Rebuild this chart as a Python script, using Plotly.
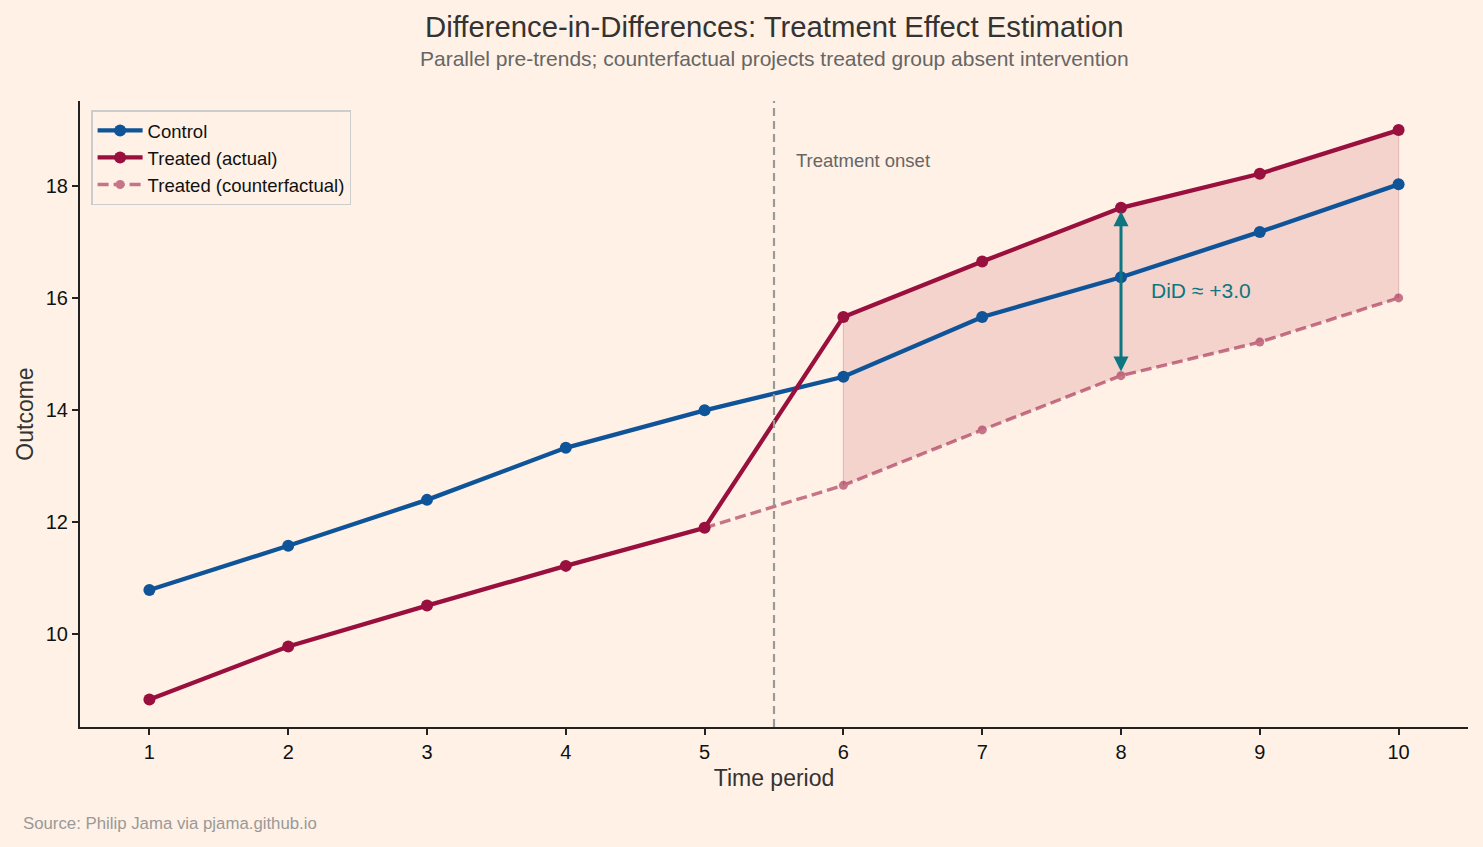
import plotly.graph_objects as go

periods = [1, 2, 3, 4, 5, 6, 7, 8, 9, 10]
control = [10.78, 11.57, 12.39, 13.32, 13.99, 14.59, 15.66, 16.37, 17.18, 18.03]
treated_actual = [8.82, 9.77, 10.50, 11.21, 11.89, 15.66, 16.65, 17.61, 18.22, 19.00]
cf_periods = [5, 6, 7, 8, 9, 10]
treated_cf = [11.89, 12.65, 13.64, 14.61, 15.21, 16.00]
post_periods = [6, 7, 8, 9, 10]
onset = 5.5
did_period = 8
did_label = "DiD ≈ +3.0"

BG = "#FFF1E5"
BLUE = "#0F5499"
CLARET = "#990F3D"
TEAL = "#0D7680"
FONT = "Liberation Sans, Arial, sans-serif"

fig = go.Figure()

post_actual = [treated_actual[periods.index(p)] for p in post_periods]
post_cf = [treated_cf[cf_periods.index(p)] for p in post_periods]

# shaded area between counterfactual and actual
fig.add_trace(go.Scatter(x=post_periods, y=post_cf, mode="lines",
                         line=dict(color="rgba(0,0,0,0)", width=0),
                         showlegend=False, hoverinfo="skip"))
fig.add_trace(go.Scatter(x=post_periods, y=post_actual, mode="lines",
                         line=dict(color="rgba(153,15,61,0.10)", width=1),
                         fill="tonexty", fillcolor="rgba(170,30,60,0.14)",
                         showlegend=False, hoverinfo="skip"))
for p in [post_periods[0], post_periods[-1]]:
    i = post_periods.index(p)
    fig.add_trace(go.Scatter(x=[p, p], y=[post_cf[i], post_actual[i]],
                             mode="lines", line=dict(color="rgba(153,15,61,0.18)", width=1.2),
                             showlegend=False, hoverinfo="skip"))

fig.add_trace(go.Scatter(x=periods, y=control, mode="lines+markers", name="Control",
                         line=dict(color=BLUE, width=4.3), marker=dict(size=12, color=BLUE)))
fig.add_trace(go.Scatter(x=periods, y=treated_actual, mode="lines+markers", name="Treated (actual)",
                         line=dict(color=CLARET, width=4.3), marker=dict(size=12, color=CLARET)))
fig.add_trace(go.Scatter(x=cf_periods, y=treated_cf, mode="lines+markers", name="Treated (counterfactual)",
                         line=dict(color=CLARET, width=3.4, dash="11px,5px"),
                         marker=dict(size=9, color=CLARET), opacity=0.55))

# vertical onset line
fig.add_shape(type="line", x0=onset, x1=onset, y0=0, y1=1, xref="x", yref="paper",
              line=dict(color="#999999", width=2.2, dash="8px,5px"))
fig.add_annotation(x=onset + 0.145, y=18.45, xref="x", yref="y", text="Treatment onset",
                   showarrow=False, xanchor="left", yanchor="middle",
                   font=dict(family=FONT, size=18.5, color="#666666"))

# DiD arrow
y_top = treated_actual[periods.index(did_period)]
y_bot = treated_cf[cf_periods.index(did_period)]
fig.add_annotation(x=did_period, y=y_top - 0.06, ax=did_period, ay=y_bot + 0.05,
                   xref="x", yref="y", axref="x", ayref="y", text="",
                   showarrow=True, arrowhead=2, arrowside="end+start", arrowsize=1,
                   arrowwidth=3, arrowcolor=TEAL)
fig.add_annotation(x=did_period + 0.2, y=16.13, xref="x", yref="y", text=did_label,
                   showarrow=False, xanchor="left", yanchor="middle",
                   font=dict(family=FONT, size=21, color=TEAL))

# titles and source (pixel positions, converted below)
fig.add_annotation(x=0.5, y=27, xref="paper", yref="paper", yanchor="middle", xanchor="center",
                   text="Difference-in-Differences: Treatment Effect Estimation",
                   showarrow=False, font=dict(family=FONT, size=29.3, color="#333333"))
fig.add_annotation(x=0.5, y=59, xref="paper", yref="paper", yanchor="middle", xanchor="center",
                   text="Parallel pre-trends; counterfactual projects treated group absent intervention",
                   showarrow=False, font=dict(family=FONT, size=21, color="#666666"))
fig.add_annotation(x=21, y=823, xref="paper", yref="paper", xanchor="left", yanchor="middle",
                   text="Source: Philip Jama via pjama.github.io", showarrow=False,
                   font=dict(family=FONT, size=16.8, color="#999999"))

W, H = 1483, 847
L, R, T, B = 80, 15, 101, 120
pw, ph = W - L - R, H - T - B
for ann in fig.layout.annotations[-3:]:
    ann.x = ann.x if ann.x <= 1 else (ann.x - L) / pw
    ann.y = 1 + (T - ann.y) / ph

fig.update_layout(
    width=W, height=H,
    paper_bgcolor=BG, plot_bgcolor=BG,
    margin=dict(l=L, r=R, t=T, b=B),
    font=dict(family=FONT, size=18, color="#222222"),
    legend=dict(x=0.008, y=0.985, xanchor="left", yanchor="top", traceorder="normal",
                bgcolor="rgba(255,241,229,0.8)", bordercolor="#cccccc", borderwidth=1.5,
                font=dict(family=FONT, size=18.5, color="#111111"), itemwidth=45,
                tracegroupgap=0),
    xaxis=dict(range=[0.5, 10.5], tickvals=periods, showgrid=False, zeroline=False,
               showline=True, linecolor="#222222", linewidth=2, ticks="outside",
               ticklen=6, tickwidth=2, tickcolor="#222222",
               title=dict(text="Time period", font=dict(size=23, color="#333333"), standoff=8),
               tickfont=dict(size=20, color="#111111")),
    yaxis=dict(range=[8.33, 19.52], tickvals=[10, 12, 14, 16, 18], showgrid=False, zeroline=False,
               showline=True, linecolor="#222222", linewidth=2, ticks="outside",
               ticklen=6, tickwidth=2, tickcolor="#222222",
               title=dict(text="Outcome", font=dict(size=23, color="#333333"), standoff=6),
               tickfont=dict(size=20, color="#111111")),
)

fig.write_html("out.html", config={"displayModeBar": False},
               post_script="document.body.style.margin='0';document.body.style.overflow='hidden';")
